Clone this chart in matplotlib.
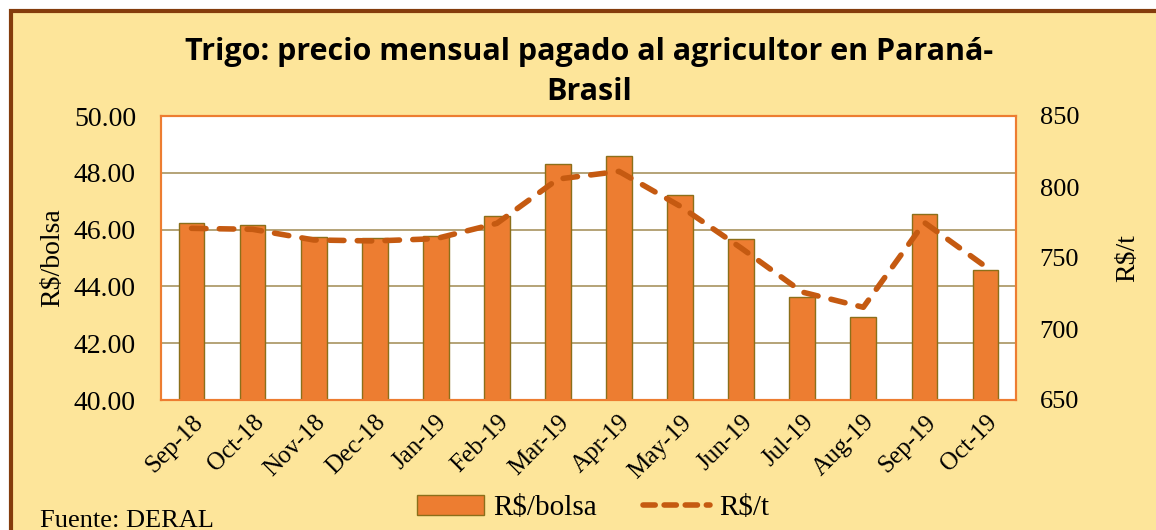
import matplotlib.pyplot as plt
from matplotlib.patches import Rectangle
from matplotlib.lines import Line2D
from matplotlib.patches import Patch
import numpy as np

months = ["Sep-18", "Oct-18", "Nov-18", "Dec-18", "Jan-19", "Feb-19", "Mar-19",
          "Apr-19", "May-19", "Jun-19", "Jul-19", "Aug-19", "Sep-19", "Oct-19"]
bolsa = [46.24, 46.16, 45.75, 45.69, 45.77, 46.49, 48.32,
         48.60, 47.23, 45.66, 43.63, 42.92, 46.54, 44.58]
tonelada = [770.9, 770.2, 762.7, 762.0, 763.6, 774.4, 805.6,
            811.0, 786.5, 757.0, 726.0, 715.3, 775.0, 744.0]

bg = "#FDE59A"
bar_col = "#ED7D31"
line_col = "#C55A11"
serif = "Liberation Serif"

fig = plt.figure(figsize=(11.56, 5.30), dpi=100, facecolor="white")
# panel background with brown frame (cropped at right and bottom)
fig.patches.append(Rectangle((11 / 1156, -0.05), 1.2, 1 - 11 / 530 + 0.05,
                             transform=fig.transFigure, facecolor=bg,
                             edgecolor="#843C0C", linewidth=3, zorder=-5))

ax = fig.add_axes([161 / 1156, 130 / 530, 855 / 1156, 284 / 530])
ax.set_zorder(1)
ax.set_facecolor("white")
x = np.arange(len(months))
ax.bar(x, bolsa, width=0.42, color=bar_col, edgecolor="#8B6F1A", linewidth=1, zorder=3)
ax.set_ylim(40, 50)
ax.set_xlim(-0.5, len(months) - 0.5)
ax.set_yticks(np.arange(40, 50.01, 2))
ax.set_yticklabels([f"{v:.2f}" for v in np.arange(40, 50.01, 2)],
                   fontfamily=serif, fontsize=20)
ax.yaxis.grid(True, color="#A89460", linewidth=1.2, zorder=0)
ax.set_axisbelow(True)
ax.set_xticks(x)
ax.set_xticklabels(months, rotation=45, ha="right", rotation_mode="anchor",
                   fontfamily=serif, fontsize=18)
ax.tick_params(length=0, pad=18)
ax.tick_params(axis="x", pad=8)
for s in ax.spines.values():
    s.set_color(bar_col)
    s.set_linewidth(1.5)
ax.set_ylabel("R$/bolsa", fontfamily=serif, fontsize=20, labelpad=6)

ax2 = ax.twinx()
ax2.set_zorder(2)
ax2.patch.set_visible(False)
ax2.plot(x, tonelada, color=line_col, linestyle=(0, (2.6, 2.4)), linewidth=4,
         dash_capstyle="round", zorder=5)
ax2.set_ylim(650, 850)
ax2.set_yticks(np.arange(650, 851, 50))
ax2.set_yticklabels([str(v) for v in range(650, 851, 50)],
                    fontfamily=serif, fontsize=19)
ax2.tick_params(length=0, pad=17)
for s in ax2.spines.values():
    s.set_color(bar_col)
    s.set_linewidth(1.5)
ax2.set_ylabel("R$/t", fontfamily=serif, fontsize=20, labelpad=26)

fig.text(0.51, 0.93, "Trigo: precio mensual pagado al agricultor en Paraná-\nBrasil",
         ha="center", va="top", fontsize=22, fontweight="bold",
         fontfamily="Open Sans", linespacing=1.45)

handles = [Patch(facecolor=bar_col, edgecolor="#8B6F1A", label="R$/bolsa"),
           Line2D([0], [0], color=line_col, linestyle=(0, (2.2, 1.6)), linewidth=4,
                  dash_capstyle="round", label="R$/t")]
fig.legend(handles=handles, loc="center", bbox_to_anchor=(0.513, 0.042), ncol=2,
           frameon=False, prop={"family": serif, "size": 21}, handlelength=2.3,
           handleheight=0.7, columnspacing=1.6, handletextpad=0.3)

fig.text(40 / 1156, 0.038, "Fuente: DERAL", fontfamily=serif, fontsize=19,
         ha="left", va="top")

fig.savefig("out.png", dpi=100, facecolor=fig.get_facecolor())
